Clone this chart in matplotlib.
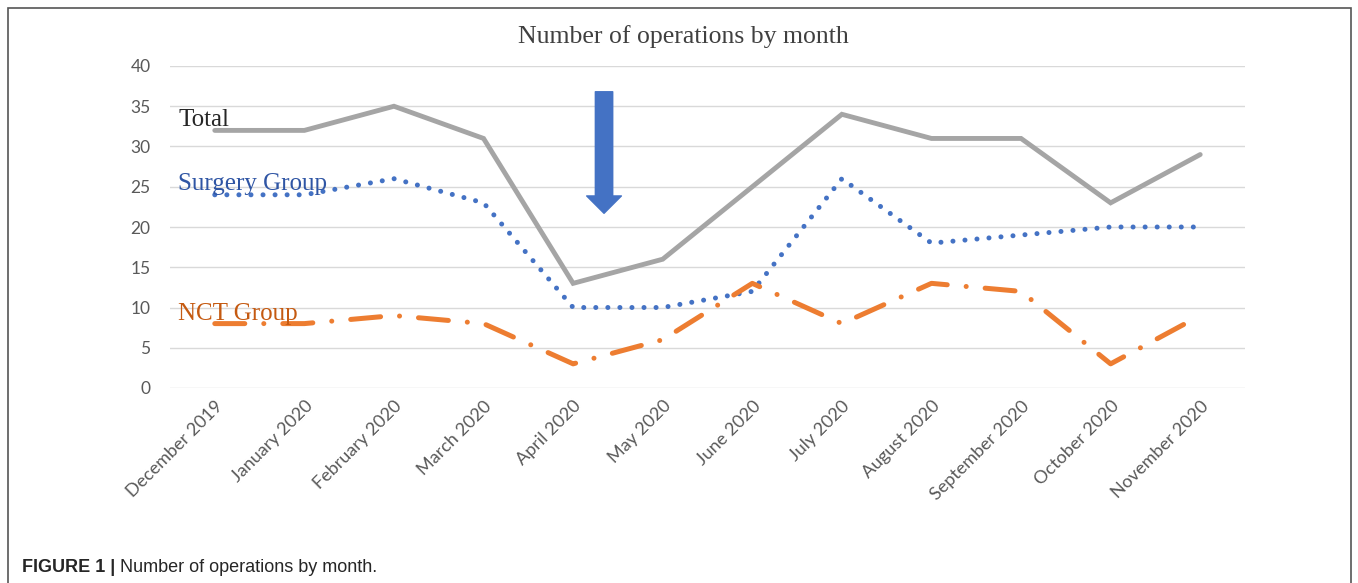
import matplotlib
matplotlib.use("Agg")
import matplotlib.pyplot as plt
from matplotlib.patches import Rectangle, FancyArrowPatch

months = ["December 2019", "January 2020", "February 2020", "March 2020", "April 2020",
          "May 2020", "June 2020", "July 2020", "August 2020", "September 2020",
          "October 2020", "November 2020"]
total = [32, 32, 35, 31, 13, 16, 25, 34, 31, 31, 23, 29]
surgery = [24, 24, 26, 23, 10, 10, 12, 26, 18, 19, 20, 20]
nct = [8, 8, 9, 8, 3, 6, 13, 8, 13, 12, 3, 9]
yticks = [0, 5, 10, 15, 20, 25, 30, 35, 40]

W, H = 1358, 583
fig = plt.figure(figsize=(W / 100, H / 100), dpi=100)
ax = fig.add_axes([170 / W, 1 - 388 / H, (1245 - 170) / W, (388 - 66) / H])

x = list(range(len(months)))
ax.plot(x, total, color="#A5A5A5", lw=3.5, solid_capstyle="round", solid_joinstyle="miter", zorder=3)
ax.plot(x, surgery, color="#4472C4", lw=3.6, linestyle=(0, (0.01, 2.4)),
        dash_capstyle="round", zorder=3)
ax.plot(x, nct, color="#ED7D31", lw=3.6, linestyle=(0, (6, 3.8, 0.01, 3.8)),
        dash_capstyle="round", zorder=3)

ax.set_xlim(-0.5, len(months) - 0.5)
ax.set_ylim(0, 40)
ax.set_yticks(yticks)
ax.set_xticks(x)
ax.set_xticklabels(months, rotation=45, ha="right", rotation_mode="anchor",
                   fontsize=13, color="#595959", family="Lato")
for lbl in ax.get_yticklabels():
    lbl.set_family("Lato")
ax.tick_params(axis="y", length=0, pad=14, labelsize=12.5, labelcolor="#595959")
ax.tick_params(axis="x", length=0, pad=7)
ax.grid(axis="y", color="#D9D9D9", lw=1)
ax.set_axisbelow(True)
for s in ax.spines.values():
    s.set_visible(False)

# arrow marking April 2020
arr = FancyArrowPatch((4.345, 36.8), (4.345, 21.7),
                      arrowstyle="simple,head_length=12.5,head_width=25,tail_width=12.5",
                      mutation_scale=1, color="#4472C4", shrinkA=0, shrinkB=0, zorder=4)
ax.add_patch(arr)

# series labels
ax.text(-0.41, 32.6, "Total", family="Liberation Serif", fontsize=18, color="#262626",
        va="baseline", zorder=5)
ax.text(-0.41, 24.6, "Surgery Group", family="Liberation Serif", fontsize=18,
        color="#2F55A4", va="baseline", zorder=5)
ax.text(-0.41, 8.4, "NCT Group", family="Liberation Serif", fontsize=18,
        color="#C55A11", va="baseline", zorder=5)

fig.text(683 / W, 1 - 37 / H, "Number of operations by month", family="Liberation Serif",
         fontsize=18.5, color="#404040", ha="center", va="center")

cap1 = fig.text(22 / W, 1 - 567 / H, "FIGURE 1 |", family="Liberation Sans",
                fontsize=13, fontweight="bold", color="#262626", va="center")
fig.canvas.draw()
bb = cap1.get_window_extent(fig.canvas.get_renderer())
fig.text((bb.x1 + 5) / W, 1 - 567 / H, "Number of operations by month.",
         family="Liberation Sans", fontsize=13, color="#262626", va="center")

fig.patches.append(Rectangle((8 / W, -0.02), (1351 - 8) / W, 1 - 8 / H + 0.02,
                             transform=fig.transFigure, fill=False, edgecolor="#555555",
                             lw=1.2))

fig.savefig("out.png", dpi=100)
